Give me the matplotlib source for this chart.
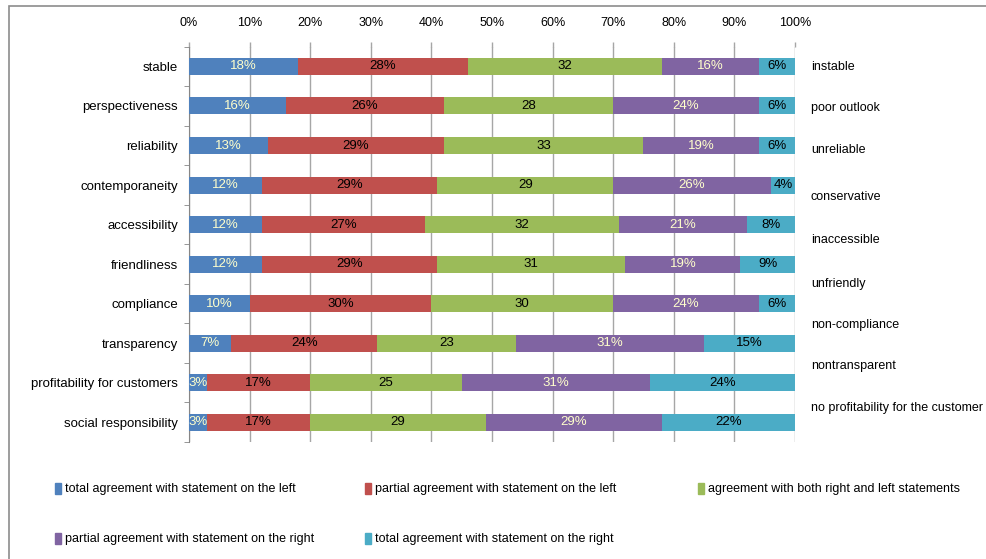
import matplotlib
matplotlib.use("Agg")
import matplotlib.pyplot as plt
from matplotlib.patches import Patch, Rectangle
import numpy as np

plt.rcParams['font.family'] = ['Liberation Sans', 'DejaVu Sans']

left_statements = ["stable", "perspectiveness", "reliability", "contemporaneity",
                   "accessibility", "friendliness", "compliance", "transparency",
                   "profitability for customers", "social responsibility"]
right_statements = ["instable", "poor outlook", "unreliable", "conservative",
                    "inaccessible", "unfriendly", "non-compliance", "nontransparent",
                    "no profitability for the customer"]

series_names = ["total agreement with statement on the left",
                "partial agreement with statement on the left",
                "agreement with both right and left statements",
                "partial agreement with statement on the right",
                "total agreement with statement on the right"]

total_left = [18, 16, 13, 12, 12, 12, 10, 7, 3, 3]
partial_left = [28, 26, 29, 29, 27, 29, 30, 24, 17, 17]
both = [32, 28, 33, 29, 32, 31, 30, 23, 25, 29]
partial_right = [16, 24, 19, 26, 21, 19, 24, 31, 31, 29]
total_right = [6, 6, 6, 4, 8, 9, 6, 15, 24, 22]

x_ticks = [0, 10, 20, 30, 40, 50, 60, 70, 80, 90, 100]

colors = ["#4F81BD", "#C0504D", "#9BBB59", "#8064A2", "#4BACC6"]
label_colors = ["#FFFFCC", "#000000", "#000000", "#FFFFCC", "#000000"]
label_suffix = ["%", "%", "", "%", "%"]

FS = 9

fig = plt.figure(figsize=(9.87, 5.59), dpi=100)
ax = fig.add_axes([189 / 987, 1 - 442 / 559, 606 / 987, 395.3 / 559])

values = [total_left, partial_left, both, partial_right, total_right]
y = np.arange(len(left_statements))
left = np.zeros(len(left_statements))
for vals, col, lcol, suf in zip(values, colors, label_colors, label_suffix):
    vals = np.array(vals, dtype=float)
    bars = ax.barh(y, vals, left=left, height=0.43, color=col, zorder=3)
    ax.bar_label(bars, labels=[f"{int(v)}{suf}" for v in vals], label_type='center',
                 color=lcol, fontsize=FS + 0.5, zorder=4)
    left += vals

ax.set_xlim(0, 100)
ax.set_ylim(len(left_statements) - 0.5, -0.5)
ax.set_xticks(x_ticks)
ax.set_xticklabels([f"{t}%" for t in x_ticks], fontsize=FS)
ax.xaxis.tick_top()
ax.tick_params(axis='x', length=3.4, color="#A6A6A6", width=1, pad=9.5)
ax.set_yticks(y)
ax.set_yticklabels(left_statements, fontsize=FS + 0.5)
ax.set_yticks(np.arange(len(left_statements) + 1) - 0.5, minor=True)
ax.tick_params(axis='y', which='major', length=0, pad=8)
ax.tick_params(axis='y', which='minor', length=3.5, color="#868686", direction='out')
ax.grid(axis='x', color="#A6A6A6", linewidth=1, zorder=0)
for s in ['top', 'right', 'bottom']:
    ax.spines[s].set_visible(False)
ax.spines['left'].set_color("#868686")

# opposite statements on the right-hand side
right_y = [67, 108, 150, 197, 240, 284, 325, 366, 408]
for txt, py in zip(right_statements, right_y):
    fig.text(811 / 987, 1 - py / 559, txt, fontsize=FS, ha='left', va='center')

# legend entries in a three-column grid
legend_x = [55 / 987, 365 / 987, 698 / 987]
legend_y = [1 - 489 / 559, 1 - 539 / 559]
for i, (name, col) in enumerate(zip(series_names, colors)):
    fig.legend(handles=[Patch(color=col)], labels=[name], loc='center left',
               bbox_to_anchor=(legend_x[i % 3], legend_y[i // 3]), frameon=False,
               handlelength=0.45, handleheight=1.0, handletextpad=0.35,
               borderpad=0, borderaxespad=0, fontsize=FS)

# chart area border
fig.patches.append(Rectangle((9 / 987, -0.1), 1.1, 1 - 6 / 559 + 0.1,
                             transform=fig.transFigure, fill=False,
                             edgecolor="#8C8C8C", linewidth=1.2))

fig.savefig("out.png", dpi=100)
